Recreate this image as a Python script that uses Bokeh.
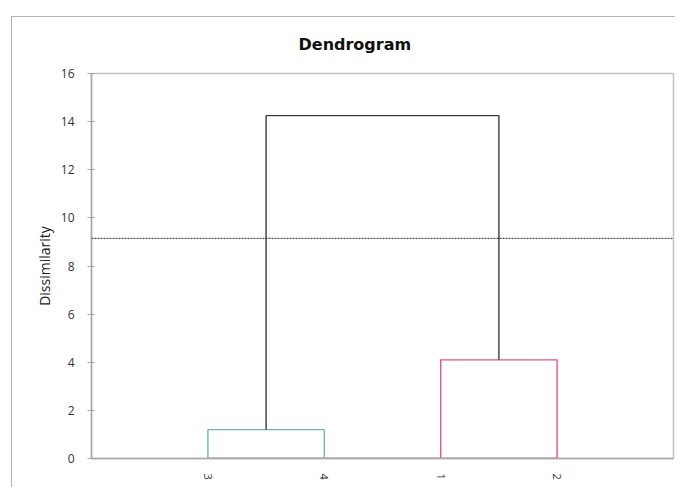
import math
from bokeh.plotting import figure
from bokeh.models import Range1d, FixedTicker, Span
from bokeh.embed import file_html
from bokeh.resources import INLINE

# ---- data ----
leaf_labels = ["3", "4", "1", "2"]          # leaves in display order
merge_left = [0, 2, 4]                       # node ids (leaves 0..3, merges 4..)
merge_right = [1, 3, 5]
merge_height = [1.2, 4.1, 14.25]
merge_color = ["#79aecd", "#e8537f", "#3c3c3c"]
cut_level = 9.15
y_ticks = [0, 2, 4, 6, 8, 10, 12, 14, 16]

# ---- derived node positions ----
node_x = [i + 1 for i in range(len(leaf_labels))]
node_h = [0.0] * len(leaf_labels)
xs, ys = [], []
for l, r, h in zip(merge_left, merge_right, merge_height):
    xl, xr = node_x[l], node_x[r]
    xs.append([xl, xl, xr, xr])
    ys.append([node_h[l], h, h, node_h[r]])
    node_x.append((xl + xr) / 2)
    node_h.append(h)

p = figure(width=664, height=471, output_backend="svg", toolbar_location=None,
           x_range=Range1d(0, len(leaf_labels) + 1), y_range=Range1d(0, 16),
           min_border_left=79, min_border_top=56, min_border_right=3, min_border_bottom=30,
           background_fill_color="#ffffff", border_fill_color="#ffffff")
p.styles = {"margin-left": "11px", "margin-top": "16px",
            "border-left": "1px solid #b4b4b4", "border-top": "1px solid #b4b4b4"}

p.title.text = "Dendrogram"
p.title.align = "left"
p.title.offset = 207
p.title.vertical_align = "top"
p.title.text_font = "DejaVu Sans"
p.title.text_font_size = "16px"
p.title.text_font_style = "bold"
p.title.text_color = "#111111"
p.title.standoff = 35

p.outline_line_color = "#c4c4c4"
p.outline_line_width = 1.5
p.xgrid.visible = False
p.ygrid.visible = False

# y axis
yax = p.yaxis[0]
yax.ticker = FixedTicker(ticks=y_ticks)
yax.axis_label = "Dissimilarity"
yax.axis_label_text_font = "Open Sans"
yax.axis_label_text_font_size = "14px"
yax.axis_label_text_font_style = "normal"
yax.axis_label_text_color = "#222222"
yax.axis_label_standoff = 4
yax.major_label_text_font = "Open Sans"
yax.major_label_text_font_size = "12px"
yax.major_label_text_color = "#333333"
yax.major_label_standoff = 13
yax.axis_line_color = "#a8a8a8"
yax.axis_line_width = 1.5
yax.major_tick_line_color = "#a8a8a8"
yax.major_tick_in = 3
yax.major_tick_out = 4
yax.minor_tick_line_color = None

# x axis
xax = p.xaxis[0]
xax.ticker = FixedTicker(ticks=node_x[:len(leaf_labels)])
xax.major_label_overrides = {node_x[i]: lab for i, lab in enumerate(leaf_labels)}
xax.major_label_orientation = -math.pi / 2
xax.major_label_text_font = "Open Sans"
xax.major_label_text_font_size = "11px"
xax.major_label_text_color = "#333333"
xax.major_label_standoff = 9
xax.axis_line_color = "#a8a8a8"
xax.axis_line_width = 1.5
xax.major_tick_line_color = None
xax.minor_tick_line_color = None

# leaf baseline
p.line([node_x[0], node_x[len(leaf_labels) - 1]], [0, 0], line_color="#555555", line_width=1.5)

# dendrogram links
p.multi_line(xs, ys, line_color=merge_color, line_width=1.4)

# cut level
p.add_layout(Span(location=cut_level, dimension="width", line_color="#222222",
                  line_dash="2 1", line_width=1))

open("out.html", "w").write(file_html(p, INLINE))
